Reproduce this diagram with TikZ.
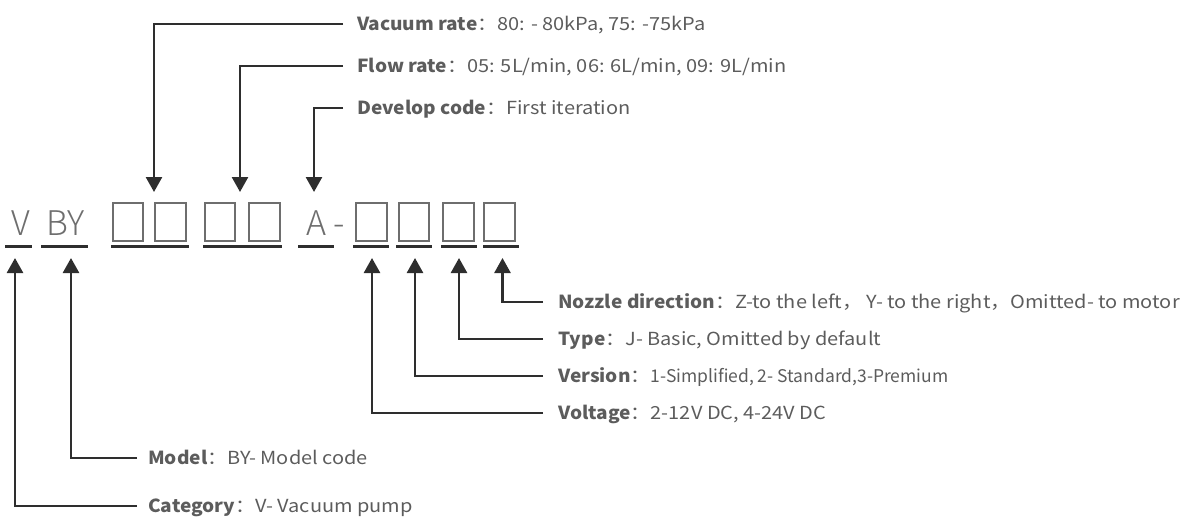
\documentclass[tikz,border=0pt]{standalone}
\usepackage{fontspec}
\setmainfont{Noto Sans CJK SC}
\newfontfamily\lightfont{Noto Sans CJK SC Light}
\newfontfamily\labfont{Noto Sans CJK SC}[FakeStretch=1.11]
\newfontfamily\kwfont{Noto Sans CJK SC}[FakeStretch=1.06]
\newcommand\kw[1]{{\kwfont\bfseries #1}}
\usetikzlibrary{arrows.meta}
\definecolor{ln}{HTML}{2E2E2E}
\definecolor{tx}{HTML}{5C5C5C}
\definecolor{bx}{HTML}{6E6E6E}
\begin{document}
\begin{tikzpicture}[x=1pt,y=-1pt,
  conn/.style={draw=ln,line width=2.6pt,-{Triangle[width=16pt,length=15pt]}},
  uline/.style={draw=ln,line width=2.6pt},
  slot/.style={draw=bx,line width=2pt},
  big/.style={font=\lightfont\fontsize{34}{34}\selectfont,text=bx,inner sep=0pt,anchor=base},
  lab/.style={font=\labfont\fontsize{18}{20}\selectfont,text=tx,inner sep=0pt,anchor=base west}
]
\useasboundingbox (0,0) rectangle (1196,517);

% code characters
\node[big] (cV) at (20.5,235) {V};
\node[big] (cBY) at (65.5,235) {BY};
\node[big] (cA) at (316,235) {A};
\node[big] (cdash) at (339.5,235) {-};

% slots
\foreach \a/\b in {112/144,154/187,204/236,248/281,355/388,398/430,442/475,483/516}
  \draw[slot] (\a+1,203) rectangle (\b-1,241);

% underlines
\foreach \a/\b in {5/32,41/88,111/189,203/282,298/334,353/389,396/432,441/477,483/519}
  \draw[uline] (\a,246.5) -- (\b,246.5);

% labels
\node[lab] (vac) at (357,30) {\kw{Vacuum rate}：80: - 80kPa, 75: -75kPa};
\node[lab] (flow) at (357,72) {\kw{Flow rate}：05: 5L/min, 06: 6L/min, 09: 9L/min};
\node[lab] (dev) at (357,114) {\kw{Develop code}：First iteration};
\node[lab] (noz) at (558,308) {\kw{Nozzle direction}：Z-to the left， Y- to the right，Omitted- to motor};
\node[lab] (typ) at (558,345) {\kw{Type}：J- Basic, Omitted by default};
\node[lab] (ver) at (558,382) {\kw{Version}：{\rmfamily\fontsize{17.5}{20}\selectfont 1-Simplified, 2- Standard,3-Premium}};
\node[lab] (vol) at (558,419) {\kw{Voltage}：2-12V DC, 4-24V DC};
\node[lab] (mod) at (148,464) {\kw{Model}：BY- Model code};
\node[lab] (cat) at (148,512) {\kw{Category}：V- Vacuum pump};

% arrow targets
\coordinate (tVac) at (154,192);
\coordinate (tFlow) at (240,192);
\coordinate (tDev) at (314,192);
\coordinate (tCat) at (15,258);
\coordinate (tMod) at (71,258);
\coordinate (tVol) at (372,258);
\coordinate (tVer) at (415,258);
\coordinate (tTyp) at (459,258);
\coordinate (tNoz) at (502.5,258);

% connectors
\draw[conn] ([shift={(-14,-6)}]vac.base west) -| (tVac);
\draw[conn] ([shift={(-14,-6)}]flow.base west) -| (tFlow);
\draw[conn] ([shift={(-14,-6)}]dev.base west) -| (tDev);
\draw[conn] ([shift={(-15,-6)}]noz.base west) -| (tNoz);
\draw[conn] ([shift={(-15,-6)}]typ.base west) -| (tTyp);
\draw[conn] ([shift={(-15,-6)}]ver.base west) -| (tVer);
\draw[conn] ([shift={(-15,-6)}]vol.base west) -| (tVol);
\draw[conn] ([shift={(-11,-6)}]mod.base west) -| (tMod);
\draw[conn] ([shift={(-11,-6)}]cat.base west) -| (tCat);
\end{tikzpicture}
\end{document}
